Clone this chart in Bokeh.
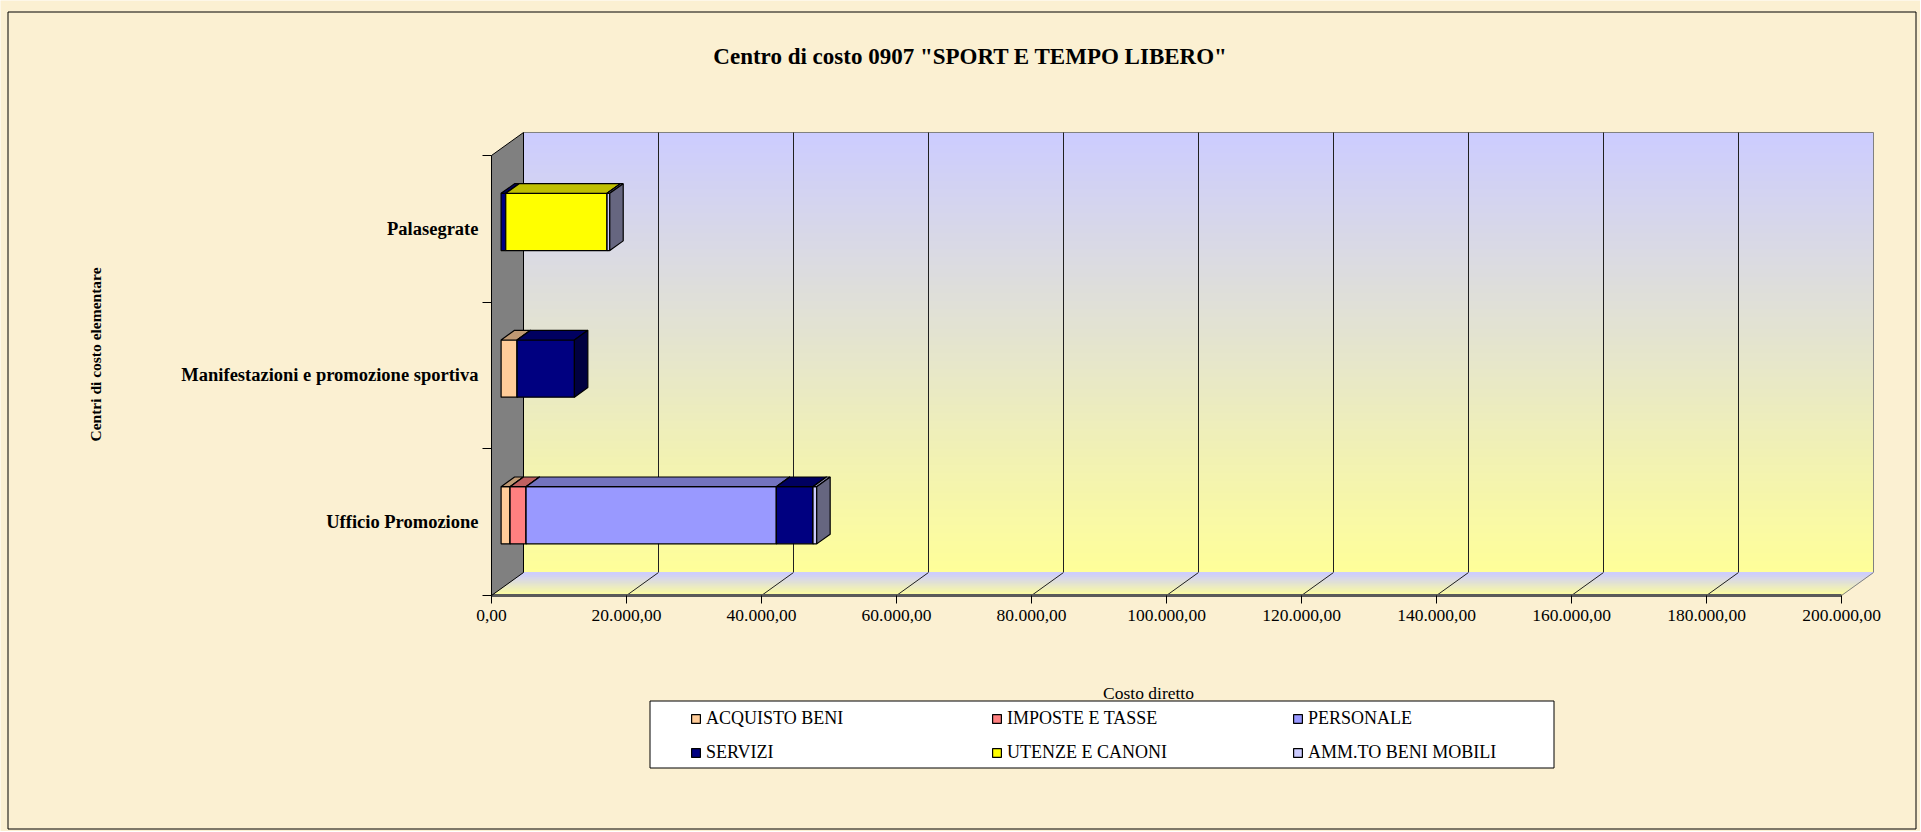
import numpy as np
from bokeh.plotting import figure
from bokeh.models import (Range1d, FixedTicker, Legend, LegendItem, ColumnDataSource)
from bokeh.core.properties import value
from bokeh.embed import file_html
from bokeh.resources import INLINE

# ---------------- data ----------------
CATEGORIES = ["Ufficio Promozione", "Manifestazioni e promozione sportiva", "Palasegrate"]
SERIES = ["ACQUISTO BENI", "IMPOSTE E TASSE", "PERSONALE",
          "SERVIZI", "UTENZE E CANONI", "AMM.TO BENI MOBILI"]
ACQUISTO_BENI = [1330, 2370, 0]
IMPOSTE_E_TASSE = [2370, 0, 0]
PERSONALE = [37080, 0, 0]
SERVIZI = [5430, 8490, 690]
UTENZE_E_CANONI = [0, 0, 15010]
AMM_TO_BENI_MOBILI = [550, 0, 400]
COLORS = ["#FFCC99", "#FF8080", "#9999FF", "#000080", "#FFFF00", "#CCCCFF"]
X_TICKS = [0, 20000, 40000, 60000, 80000, 100000, 120000, 140000, 160000, 180000, 200000]
X_TICK_LABELS = ["0,00", "20.000,00", "40.000,00", "60.000,00", "80.000,00", "100.000,00",
                 "120.000,00", "140.000,00", "160.000,00", "180.000,00", "200.000,00"]
TITLE = 'Centro di costo 0907 "SPORT E TEMPO LIBERO"'
X_TITLE = "Costo diretto"
Y_TITLE = "Centri di costo elementare"

VALUES = [ACQUISTO_BENI, IMPOSTE_E_TASSE, PERSONALE, SERVIZI, UTENZE_E_CANONI, AMM_TO_BENI_MOBILI]

# ---------------- layout (pixels -> data) ----------------
W, H = 1920, 831
X0_PX, Y0_PX = 491.0, 595.0      # pixel position of value 0 / first category baseline
PX_PER_VAL = 6.75 / 1000.0
PX_PER_CAT = 146.67


def dx(px):
    return (px - X0_PX) / PX_PER_VAL


def dy(py):
    return (Y0_PX - py) / PX_PER_CAT


XMAX = X_TICKS[-1]
NCAT = len(CATEGORIES)
DX = 32 / PX_PER_VAL     # depth offset along x
DY = 23 / PX_PER_CAT     # depth offset along y
F0, F1 = 0.30, 0.72      # bar front / back depth fractions
HALF = 0.195             # half bar thickness
FONT = "Liberation Serif"
BG = "#FBF0D2"

p = figure(width=W, height=H, output_backend="svg", toolbar_location=None,
           x_range=Range1d(dx(0), dx(W)), y_range=Range1d(dy(H), dy(0)),
           min_border=0)
p.background_fill_color = BG
p.border_fill_color = BG
p.outline_line_color = None
p.grid.visible = False

# outer border
p.quad(left=dx(7.5), right=dx(1915.5), top=dy(11.5), bottom=dy(828.5),
       fill_color=None, line_color="black", line_width=1)


def mix(c1, c2, t):
    a = np.array([int(c1[i:i + 2], 16) for i in (1, 3, 5)], float)
    b = np.array([int(c2[i:i + 2], 16) for i in (1, 3, 5)], float)
    c = a + (b - a) * t
    return "#%02x%02x%02x" % tuple(int(round(v)) for v in c)


LAV, YEL = "#CCCCFF", "#FFFF99"

# back wall gradient
N = 110
ts = np.linspace(0, 1, N + 1)
bot = DY + ts[:-1] * NCAT
top = DY + ts[1:] * NCAT
cols = [mix(YEL, LAV, (t0 + t1) / 2) for t0, t1 in zip(ts[:-1], ts[1:])]
p.quad(left=DX, right=XMAX + DX, bottom=bot, top=top, fill_color=cols,
       line_color=cols, line_width=1)
p.line([DX, XMAX + DX, XMAX + DX], [NCAT + DY, NCAT + DY, DY], line_color="#808080", line_width=1)
gx = [v + DX for v in X_TICKS[1:-1]]
p.segment(x0=gx, x1=gx, y0=DY, y1=NCAT + DY, line_color="#202020", line_width=1)

# floor gradient
NF = 12
fx, fy, fc = [], [], []
for k in range(NF):
    a, b = k / NF, (k + 1) / NF
    fx.append([a * DX, XMAX + a * DX, XMAX + b * DX, b * DX])
    fy.append([a * DY, a * DY, b * DY, b * DY])
    fc.append(mix(YEL, LAV, (a + b) / 2))
p.patches(fx, fy, fill_color=fc, line_color=fc, line_width=1)
p.segment(x0=X_TICKS[1:-1], x1=[v + DX for v in X_TICKS[1:-1]], y0=0, y1=DY,
          line_color="#202020", line_width=1)
p.line([XMAX, XMAX + DX], [0, DY], line_color="#808080", line_width=1)
p.line([0, XMAX], [0, 0], line_color="#5A5A5A", line_width=3)

# left wall
p.patch([0, 0, DX, DX], [0, NCAT, NCAT + DY, DY], fill_color="#808080",
        line_color="#000000", line_width=1)


def shade(c, f):
    v = [int(c[i:i + 2], 16) for i in (1, 3, 5)]
    return "#%02x%02x%02x" % tuple(int(round(x * f)) for x in v)


# stacked 3D bars
starts = np.zeros(NCAT)
items = []
for name, vals, color in zip(SERIES, VALUES, COLORS):
    xs, ys, fcol = [], [], []
    for i in range(NCAT):
        v = vals[i]
        a = starts[i]
        b = a + v
        starts[i] = b
        if v <= 0:
            continue
        c = i + 0.5
        y0, y1 = c - HALF, c + HALF
        xs.append([a + F0 * DX, b + F0 * DX, b + F0 * DX, a + F0 * DX])          # front
        ys.append([y0 + F0 * DY, y0 + F0 * DY, y1 + F0 * DY, y1 + F0 * DY])
        fcol.append(color)
        xs.append([a + F0 * DX, b + F0 * DX, b + F1 * DX, a + F1 * DX])          # top
        ys.append([y1 + F0 * DY, y1 + F0 * DY, y1 + F1 * DY, y1 + F1 * DY])
        fcol.append(shade(color, 0.75))
        xs.append([b + F0 * DX, b + F1 * DX, b + F1 * DX, b + F0 * DX])          # side
        ys.append([y0 + F0 * DY, y0 + F1 * DY, y1 + F1 * DY, y1 + F0 * DY])
        fcol.append(shade(color, 0.5))
    src = ColumnDataSource(dict(xs=xs, ys=ys, fc=fcol))
    r = p.patches("xs", "ys", source=src, fill_color="fc", line_color="black", line_width=1.2)
    items.append(LegendItem(label=name, renderers=[r], index=0))

# axes (fixed at the front edges of the 3D box)
xa = p.xaxis[0]
xa.fixed_location = 0
xa.ticker = FixedTicker(ticks=X_TICKS)
xa.major_label_overrides = dict(zip(X_TICKS, X_TICK_LABELS))
xa.axis_line_color = None
xa.major_tick_in = 0
xa.major_tick_out = 8
xa.major_tick_line_color = "black"
xa.minor_tick_line_color = None
xa.major_label_standoff = 6
xa.major_label_text_font = FONT
xa.major_label_text_font_size = "17.5px"
xa.major_label_text_color = "black"

ya = p.yaxis[0]
ya.fixed_location = 0
ya.ticker = FixedTicker(ticks=[i + 0.5 for i in range(NCAT)], minor_ticks=list(range(NCAT + 1)))
ya.major_label_overrides = {i + 0.5: CATEGORIES[i] for i in range(NCAT)}
ya.axis_line_color = None
ya.major_tick_line_color = None
ya.major_tick_in = 0
ya.major_tick_out = 0
ya.minor_tick_in = 0
ya.minor_tick_out = 9
ya.minor_tick_line_color = "black"
ya.major_label_standoff = 4
ya.major_label_text_font = FONT
ya.major_label_text_font_size = "18.5px"
ya.major_label_text_font_style = "bold"
ya.major_label_text_color = "black"

# titles
p.text(x=[dx(970)], y=[dy(56)], text=[TITLE], text_font=value(FONT), text_font_size="23px",
       text_font_style="bold", text_color="black", text_align="center", text_baseline="middle")
p.text(x=[dx(1148)], y=[dy(692)], text=[X_TITLE], text_font=value(FONT), text_font_size="17.5px",
       text_color="black", text_align="center", text_baseline="middle")
p.text(x=[dx(95)], y=[dy(354)], text=[Y_TITLE], text_font=value(FONT), text_font_size="15.5px",
       text_font_style="bold", text_color="black", text_align="center", text_baseline="middle",
       angle=np.pi / 2)

# legend box + legend
p.quad(left=dx(649.5), right=dx(1553.5), top=dy(700.5), bottom=dy(767.5),
       fill_color="white", line_color="black", line_width=1)
legend = Legend(items=items, orientation="horizontal", ncols=3, location=(690, 68),
                margin=0, padding=7, spacing=13, glyph_width=11, glyph_height=11,
                label_standoff=5, label_width=272, label_height=20,
                label_text_font=FONT, label_text_font_size="18px", label_text_color="black",
                border_line_color=None, background_fill_alpha=0)
p.add_layout(legend, "center")

open("out.html", "w").write(file_html(p, INLINE))
